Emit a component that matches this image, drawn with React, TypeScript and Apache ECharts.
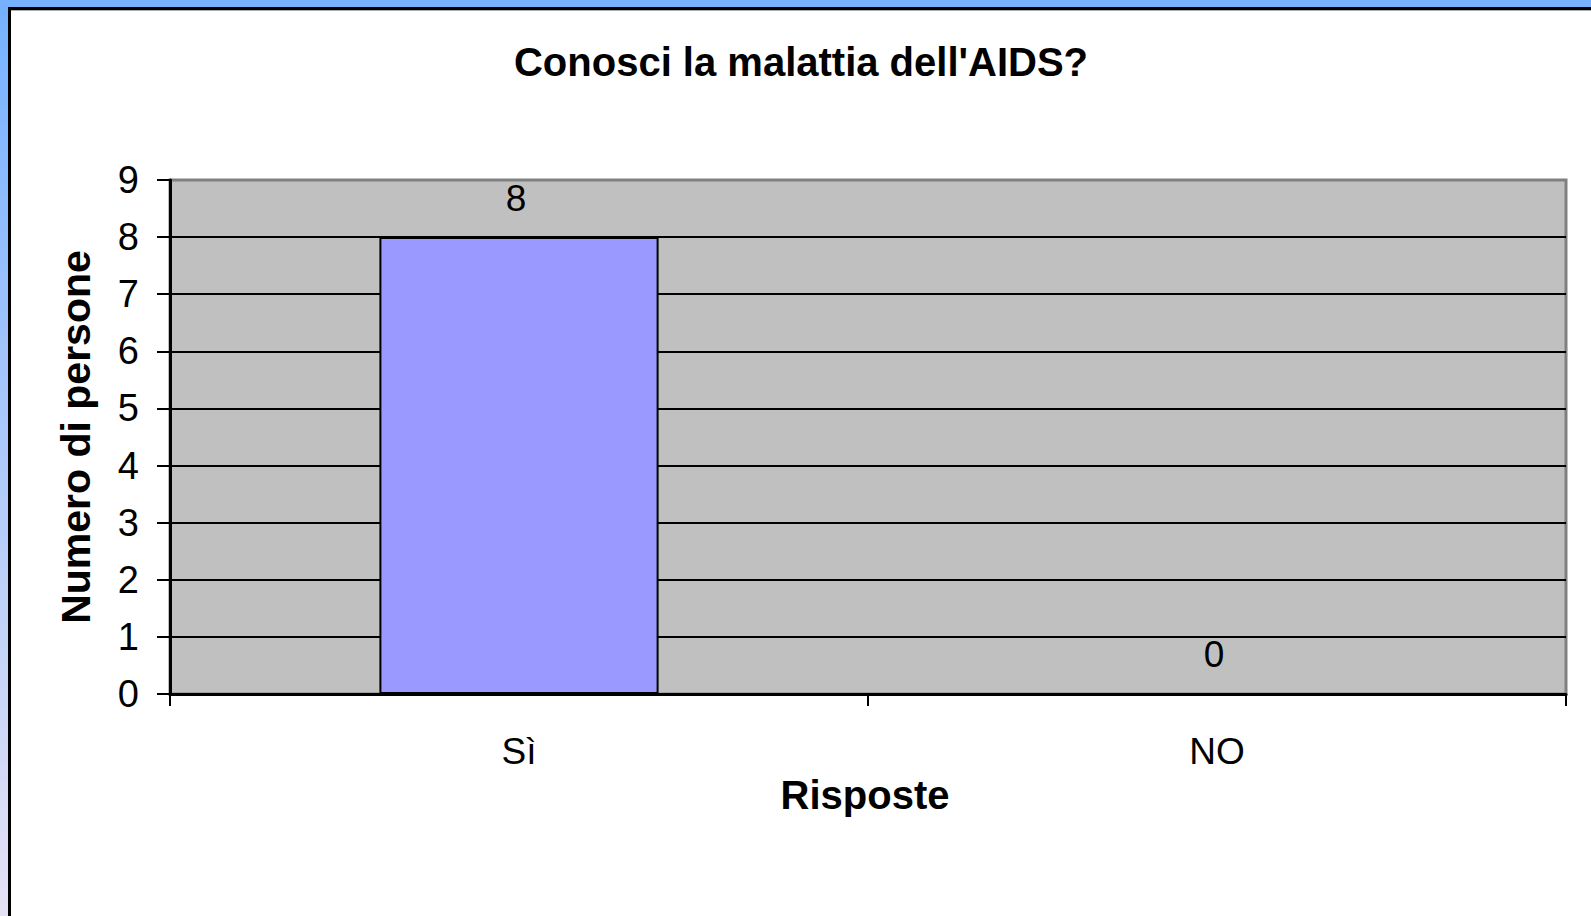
import React, { useEffect, useRef } from "react";
import * as echarts from "echarts";

const TITLE = "Conosci la malattia dell'AIDS?";
const CATEGORIES = ["Sì", "NO"];
const VALUES = [8, 0];
const Y_NAME = "Numero di persone";
const X_NAME = "Risposte";
const FONT = "'Liberation Sans', Arial, sans-serif";

export default function App() {
  const ref = useRef<HTMLDivElement>(null);
  useEffect(() => {
    if (!ref.current) return;
    const chart = echarts.init(ref.current, undefined, { renderer: "svg" });
    const splitColors = ["#000", "#000", "#000", "#000", "#000", "#000", "#000", "#000", "#000", "#808080"];
    chart.setOption({
      animation: false,
      backgroundColor: "#ffffff",
      title: {
        text: TITLE,
        left: 796,
        textAlign: "center",
        top: 37,
        textStyle: { fontFamily: FONT, fontSize: 40, fontWeight: "bold", color: "#000" },
      },
      grid: {
        left: 170,
        top: 180,
        right: 25,
        bottom: 222,
        show: true,
        backgroundColor: "#C0C0C0",
        borderColor: "#808080",
        borderWidth: 3,
      },
      xAxis: {
        type: "category",
        data: CATEGORIES,
        name: X_NAME,
        nameLocation: "middle",
        nameGap: 78,
        nameTextStyle: { fontFamily: FONT, fontSize: 40, fontWeight: "bold", color: "#000", padding: [0, 6, 0, 0] },
        axisLine: { show: true, lineStyle: { color: "#000", width: 3 } },
        axisTick: { show: true, length: 12, lineStyle: { color: "#000", width: 2 } },
        axisLabel: { margin: 39, fontFamily: FONT, fontSize: 37, color: "#000" },
      },
      yAxis: {
        type: "value",
        min: 0,
        max: 9,
        interval: 1,
        name: Y_NAME,
        nameLocation: "middle",
        nameGap: 74,
        nameTextStyle: { fontFamily: FONT, fontSize: 41, fontWeight: "bold", color: "#000" },
        axisLine: { show: true, lineStyle: { color: "#000", width: 3 } },
        axisTick: { show: true, length: 13, lineStyle: { color: "#000", width: 2 } },
        axisLabel: { margin: 31, fontFamily: FONT, fontSize: 38, color: "#000" },
        splitLine: { show: true, lineStyle: { color: splitColors, width: 2 } },
      },
      series: [
        {
          type: "bar",
          data: VALUES,
          barWidth: "40%",
          itemStyle: { color: "#9999FF", borderColor: "#000", borderWidth: 2 },
          label: {
            show: true,
            position: "top",
            distance: 20,
            offset: [-3, 0],
            fontFamily: FONT,
            fontSize: 37,
            color: "#000",
          },
        },
      ],
      graphic: [
        { type: "rect", shape: { x: 0, y: 0, width: 1591, height: 7 }, style: { fill: "#75B1FF" }, z: 100 },
        {
          type: "rect",
          shape: { x: 0, y: 0, width: 8, height: 916 },
          style: {
            fill: new echarts.graphic.LinearGradient(0, 0, 0, 1, [
              { offset: 0, color: "#75B1FF" },
              { offset: 1, color: "#E6E2F5" },
            ]),
          },
          z: 100,
        },
        { type: "rect", shape: { x: 8, y: 7, width: 1583, height: 3 }, style: { fill: "#000" }, z: 101 },
        { type: "rect", shape: { x: 8, y: 7, width: 3, height: 909 }, style: { fill: "#000" }, z: 101 },
        { type: "rect", shape: { x: 11, y: 10, width: 1580, height: 1 }, style: { fill: "#B0B0B0" }, z: 101 },
      ],
    });
    return () => chart.dispose();
  }, []);
  return (
    <div
      ref={ref}
      style={{ position: "absolute", left: 0, top: 0, width: 1591, height: 916 }}
    />
  );
}
